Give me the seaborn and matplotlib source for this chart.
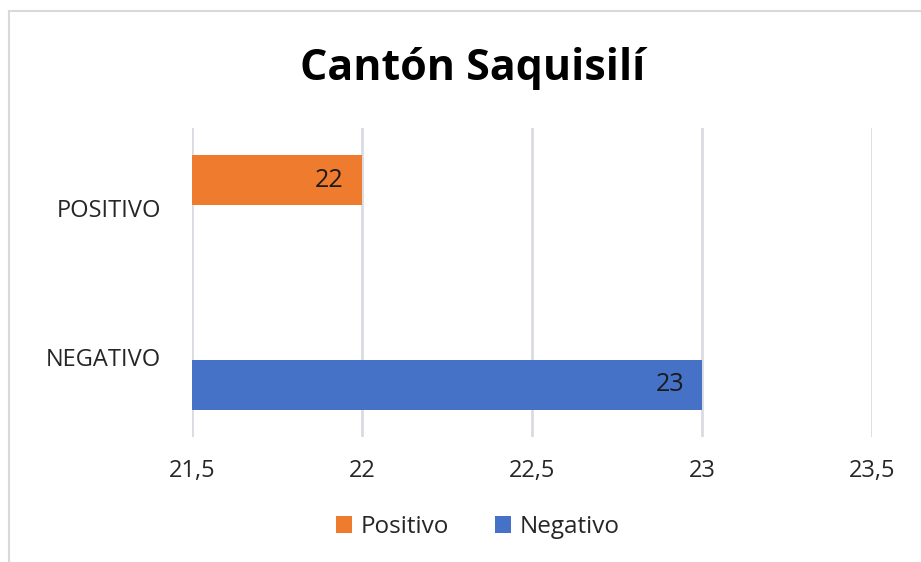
import matplotlib
matplotlib.use("Agg")
import matplotlib.pyplot as plt
import matplotlib.ticker as mticker
from matplotlib.patches import Rectangle
import seaborn as sns
import pandas as pd

# data
categories = ["POSITIVO", "NEGATIVO"]
series = ["Positivo", "Negativo"]
values = [22, 23]
colors = ["#EE7B2E", "#4571C6"]
xticks = [21.5, 22, 22.5, 23, 23.5]

sns.set_theme(style="white")
plt.rcParams['font.family'] = ['Open Sans', 'DejaVu Sans']

df = pd.DataFrame({"cat": categories, "val": values, "serie": series})

fig = plt.figure(figsize=(9.21, 5.62), dpi=100)
ax = fig.add_axes([192/921, 1-437/562, (872-192)/921, (437-128)/562])

# clustered bars: each category keeps an empty slot for the other series
sns.barplot(data=df, x="val", y="cat", hue="serie", hue_order=series,
            palette=colors, saturation=1, dodge=True, width=0.75, gap=0.09,
            ax=ax, legend=True, edgecolor="none")

ax.set_xlim(xticks[0], xticks[-1])
ax.set_ylim(1.537, -0.537)
ax.set_xticks(xticks)
ax.xaxis.set_major_formatter(mticker.FuncFormatter(lambda v, p: f"{v:g}".replace(".", ",")))
ax.grid(axis="x", color="#D9DBE3", linewidth=2)
ax.set_axisbelow(True)
for s in ax.spines.values():
    s.set_visible(False)
ax.tick_params(axis="x", length=0, pad=16, labelsize=17, colors="#262626")
ax.tick_params(axis="y", length=0, pad=22, labelsize=17, colors="#262626")
ax.set_xlabel("")
ax.set_ylabel("")

# value labels inside the bar ends
for cont in ax.containers:
    for bar in cont:
        w = bar.get_width()
        if w != w or w == 0:
            continue
        ax.annotate(f"{w:g}", xy=(bar.get_x() + w, bar.get_y() + bar.get_height() / 2),
                    xytext=(-13, 0), textcoords="offset points",
                    ha="right", va="center", fontsize=18, color="#1a1a1a")

handles, labels = ax.get_legend_handles_labels()
ax.get_legend().remove()
fig.legend(handles, labels, loc="center", bbox_to_anchor=(478/921, 1-527/562),
           ncol=2, frameon=False, fontsize=17.5, handlelength=0.65, handleheight=0.65,
           handletextpad=0.35, columnspacing=1.9)

fig.text(473/921, 1-68/562, "Cantón Saquisilí", ha="center", va="center",
         fontsize=31, fontweight="bold", color="black")

# light frame around the chart area
fig.patches.append(Rectangle((9/921, -0.05), 1.1, 1-11/562+0.05, transform=fig.transFigure,
                             fill=False, edgecolor="#D9D9D9", linewidth=1.5))

fig.savefig("out.png", dpi=100)
